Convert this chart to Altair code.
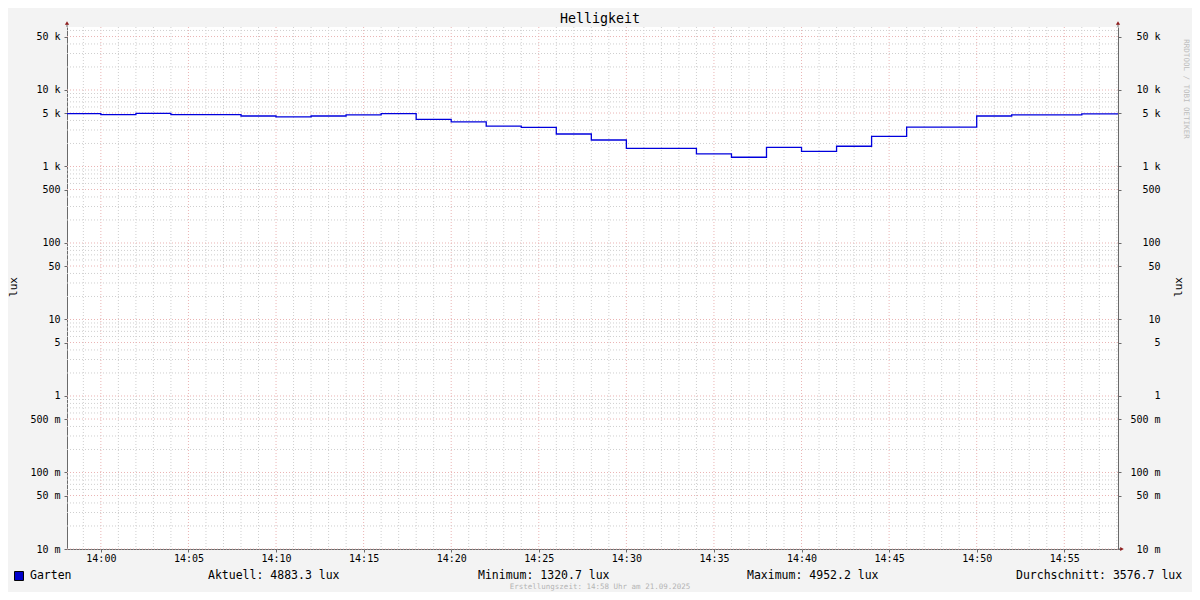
import altair as alt
import pandas as pd

DAY = "2025-09-21T"

# ---- data -------------------------------------------------------------
step_starts = ["13:58", "14:00", "14:02", "14:04", "14:06", "14:08", "14:10", "14:12",
               "14:14", "14:16", "14:18", "14:20", "14:22", "14:24", "14:26", "14:28",
               "14:30", "14:32", "14:34", "14:36", "14:38", "14:40", "14:42", "14:44",
               "14:46", "14:48", "14:50", "14:52", "14:54", "14:56"]
lux_values = [4900, 4760, 4952.2, 4760, 4760, 4570, 4440, 4570,
              4720, 4900, 4140, 3820, 3380, 3250, 2660, 2220,
              1730, 1730, 1460, 1320.7, 1780, 1580, 1840, 2480,
              3280, 3280, 4570, 4720, 4720, 4883.3]
end_time = "14:58:04"

series_name = "Garten"
stat_texts = ["Aktuell: 4883.3 lux", "Minimum: 1320.7 lux",
              "Maximum: 4952.2 lux", "Durchschnitt: 3576.7 lux"]
title_text = "Helligkeit"
unit_text = "lux"
footer_text = "Erstellungszeit: 14:58 Uhr am 21.09.2025"
watermark_text = "RRDTOOL / TOBI OETIKER"

# axis ticks / grid
y_domain = [0.01, 66600]
major_y = [0.01, 0.05, 0.1, 0.5, 1, 5, 10, 50, 100, 500, 1000, 5000, 10000, 50000]
minor_y = [0.02, 0.03, 0.04, 0.06, 0.07, 0.08, 0.09,
           0.2, 0.3, 0.4, 0.6, 0.7, 0.8, 0.9,
           2, 3, 4, 6, 7, 8, 9,
           20, 30, 40, 60, 70, 80, 90,
           200, 300, 400, 600, 700, 800, 900,
           2000, 3000, 4000, 6000, 7000, 8000, 9000,
           20000, 30000, 40000, 60000]
major_x = ["14:00", "14:05", "14:10", "14:15", "14:20", "14:25",
           "14:30", "14:35", "14:40", "14:45", "14:50", "14:55"]
minor_x = ["13:59", "14:01", "14:02", "14:03", "14:04", "14:06", "14:07", "14:08", "14:09",
           "14:11", "14:12", "14:13", "14:14", "14:16", "14:17", "14:18", "14:19",
           "14:21", "14:22", "14:23", "14:24", "14:26", "14:27", "14:28", "14:29",
           "14:31", "14:32", "14:33", "14:34", "14:36", "14:37", "14:38", "14:39",
           "14:41", "14:42", "14:43", "14:44", "14:46", "14:47", "14:48", "14:49",
           "14:51", "14:52", "14:53", "14:54", "14:56", "14:57", "14:58"]

# ---- helpers ----------------------------------------------------------
MONO = "DejaVu Sans Mono"
AXIS_COL = "#6a6a6a"
ARROW_COL = "#8f1d1d"


def dt(hm, sec=0):
    h, m = hm.split(":")[:2]
    return alt.DateTime(year=2025, month=9, date=21, hours=int(h), minutes=int(m), seconds=sec)


xscale = alt.Scale(domain=[dt("13:58", 4), dt("14:58", 4)], nice=False)
yscale = alt.Scale(type="log", domain=y_domain, nice=False)

label_expr = ("datum.value >= 1000 ? round(datum.value/1000) + ' k' : "
              "datum.value >= 1 ? round(datum.value) + '\u00a0\u00a0' : "
              "round(datum.value*1000) + ' m'")

x_axis = alt.Axis(
    values=[dt(s) for s in major_x], format="%H:%M", title=None, grid=False,
    domain=True, domainColor=AXIS_COL, ticks=True, tickSize=3, tickColor=AXIS_COL,
    labelFont=MONO, labelFontSize=10, labelColor="#000000", labelPadding=1,
    labelOverlap=False)

line_df = pd.DataFrame({
    "t": [DAY + s + ":00" for s in step_starts] + [DAY + end_time],
    "v": lux_values + [lux_values[-1]],
})

minor_x_df = pd.DataFrame({"t": [DAY + s + ":00" for s in minor_x]})
major_x_df = pd.DataFrame({"t": [DAY + s + ":00" for s in major_x]})
minor_y_df = pd.DataFrame({"v": minor_y})
major_y_df = pd.DataFrame({"v": major_y})

grid_minor_x = alt.Chart(minor_x_df).mark_rule(
    color="#cfcfcf", strokeDash=[1, 2], strokeWidth=1
).encode(x=alt.X("t:T", scale=xscale, axis=x_axis))

grid_major_x = alt.Chart(major_x_df).mark_rule(
    color="#eab4b4", strokeDash=[1, 2], strokeWidth=1
).encode(x=alt.X("t:T", scale=xscale, axis=x_axis))

grid_minor_y = alt.Chart(minor_y_df).mark_rule(
    color="#cfcfcf", strokeDash=[1, 2], strokeWidth=1
).encode(y=alt.Y("v:Q", scale=yscale, axis=alt.Axis(
    orient="left", values=major_y, labelExpr=label_expr, title=None, grid=False,
    domain=True, domainColor=AXIS_COL, ticks=True, tickSize=3, tickColor=AXIS_COL,
    labelFont=MONO, labelFontSize=10, labelColor="#000000", labelPadding=4,
    labelOverlap=False, labelBaseline="middle")))

grid_major_y = alt.Chart(major_y_df).mark_rule(
    color="#eab4b4", strokeDash=[1, 2], strokeWidth=1
).encode(y=alt.Y("v:Q", scale=yscale, axis=alt.Axis(
    orient="right", values=major_y, labelExpr=label_expr, title=None, grid=False,
    domain=True, domainColor=AXIS_COL, ticks=True, tickSize=3, tickColor=AXIS_COL,
    labelFont=MONO, labelFontSize=10, labelColor="#000000", labelPadding=39,
    labelAlign="right", labelOverlap=False, labelBaseline="middle")))

line = alt.Chart(line_df).mark_line(
    interpolate="step-after", color="#0000dd", strokeWidth=1.3, clip=True
).encode(
    x=alt.X("t:T", scale=xscale, axis=x_axis),
    y=alt.Y("v:Q", scale=yscale, axis=None),
)

one = alt.Data(values=[{}])


def txt(text, x, y, size=11.5, align="left", color="#000000", angle=0, font=MONO):
    kw = dict(text=text, align=align, baseline="middle", font=font,
              fontSize=size, color=color)
    if angle:
        kw["angle"] = angle
    return alt.Chart(one).mark_text(**kw).encode(x=alt.value(x), y=alt.value(y))


texts = [
    txt(title_text, 533, -8, size=13.3, align="center"),
    txt(unit_text, -53, 260, size=11, align="center", angle=270),
    txt(unit_text, 1112, 260, size=11, align="center", angle=270),
    txt(series_name, -37, 549),
    txt(stat_texts[0], 141, 549),
    txt(stat_texts[1], 411, 549),
    txt(stat_texts[2], 680, 549),
    txt(stat_texts[3], 949, 549),
    txt(footer_text, 533, 560, size=7.5, align="center", color="#b4b4b4"),
    txt(watermark_text, 1119, 62, size=7.5, align="center", color="#bdbdbd", angle=90),
]

swatch = alt.Chart(one).mark_square(
    size=80, filled=True, fill="#0000cc", stroke="#000000", strokeWidth=1, opacity=1
).encode(x=alt.value(-48), y=alt.value(549))

# axis arrows
arrow_up_left = alt.Chart(one).mark_point(
    shape="triangle-up", filled=True, color=ARROW_COL, size=18, opacity=1
).encode(x=alt.value(0), y=alt.value(-4))
arrow_up_right = alt.Chart(one).mark_point(
    shape="triangle-up", filled=True, color=ARROW_COL, size=18, opacity=1
).encode(x=alt.value(1051), y=alt.value(-4))
arrow_right = alt.Chart(one).mark_point(
    shape="triangle-right", filled=True, color=ARROW_COL, size=18, opacity=1
).encode(x=alt.value(1055), y=alt.value(522))
ext_left = alt.Chart(one).mark_rule(color=AXIS_COL).encode(
    x=alt.value(0), y=alt.value(-4), y2=alt.value(0))
ext_right = alt.Chart(one).mark_rule(color=AXIS_COL).encode(
    x=alt.value(1051), y=alt.value(-4), y2=alt.value(0))
ext_bottom = alt.Chart(one).mark_rule(color=AXIS_COL).encode(
    x=alt.value(1051), x2=alt.value(1054), y=alt.value(522))

chart = alt.layer(
    grid_minor_x, grid_major_x, grid_minor_y, grid_major_y, line,
    ext_left, ext_right, ext_bottom, arrow_up_left, arrow_up_right, arrow_right,
    swatch, *texts
).resolve_axis(y="independent").properties(
    width=1051, height=522,
    background="#f3f3f3",
    autosize=alt.AutoSizeParams(type="none"),
    padding={"left": 59, "top": 19, "right": 74, "bottom": 43},
).configure_view(stroke=None, fill="#ffffff")

chart.save("out.html", embed_options={"renderer": "svg", "actions": False})
